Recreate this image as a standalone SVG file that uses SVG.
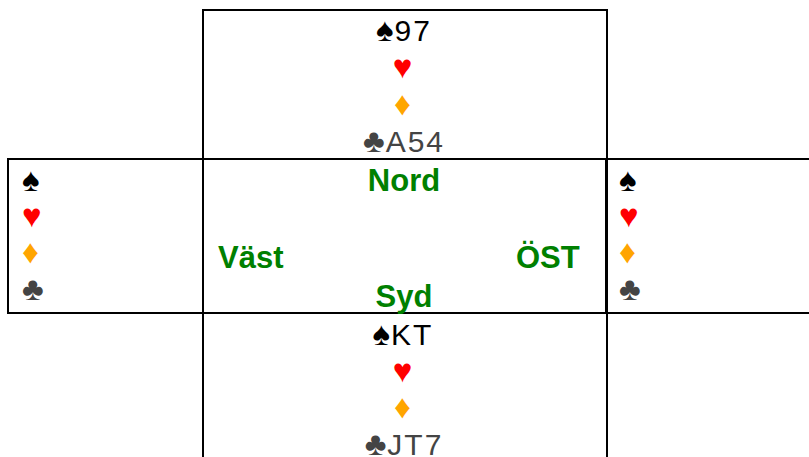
<svg xmlns="http://www.w3.org/2000/svg" width="809" height="457" viewBox="0 0 809 457">
<style>
.box{fill:#fff;stroke:#000;stroke-width:2}
.h{font-family:"Liberation Sans",Arial,sans-serif;font-size:30px;letter-spacing:2px}
.u{font-size:33px;letter-spacing:1px}
.s{fill:#000}.he{fill:#ff0000}.d{fill:#ffa500}.c{fill:#444}
.lbl{font-family:"Liberation Sans",Arial,sans-serif;font-size:31px;font-weight:bold;fill:#008000}
</style>
<rect width="809" height="457" fill="#fff"/>
<g id="north">
<rect class="box" x="203" y="10" width="404" height="149"/>
<text class="h s" x="404" y="41" text-anchor="middle"><tspan class="u">♠</tspan>97</text>
<text class="h u he" x="403" y="78" text-anchor="middle">♥</text>
<text class="h u d" x="403" y="115" text-anchor="middle">♦</text>
<text class="h c" x="404" y="152" text-anchor="middle"><tspan class="u">♣</tspan>A54</text>
</g>
<g id="west">
<rect class="box" x="8" y="159" width="195" height="154"/>
<text class="h u s" x="22" y="191">♠</text>
<text class="h u he" x="22" y="227">♥</text>
<text class="h u d" x="22" y="263">♦</text>
<text class="h u c" x="22" y="300">♣</text>
</g>
<g id="east">
<rect class="box" x="606" y="159" width="210" height="154"/>
<text class="h u s" x="619" y="191">♠</text>
<text class="h u he" x="619" y="227">♥</text>
<text class="h u d" x="619" y="263">♦</text>
<text class="h u c" x="619" y="300">♣</text>
</g>
<g id="south">
<rect class="box" x="203" y="313" width="404" height="160"/>
<text class="h s" x="403" y="345" text-anchor="middle"><tspan class="u">♠</tspan>KT</text>
<text class="h u he" x="403" y="382" text-anchor="middle">♥</text>
<text class="h u d" x="403" y="418" text-anchor="middle">♦</text>
<text class="h c" x="404" y="455" text-anchor="middle"><tspan class="u">♣</tspan>JT7</text>
</g>
<g id="center">
<rect x="203" y="159" width="404" height="154" style="fill:none;stroke:#000;stroke-width:2"/>
<text class="lbl" x="404" y="191" text-anchor="middle">Nord</text>
<text class="lbl" x="218" y="268">Väst</text>
<text class="lbl" x="516" y="268">ÖST</text>
<text class="lbl" x="404" y="307" text-anchor="middle">Syd</text>
</g>
<g id="connectors"></g>
</svg>
